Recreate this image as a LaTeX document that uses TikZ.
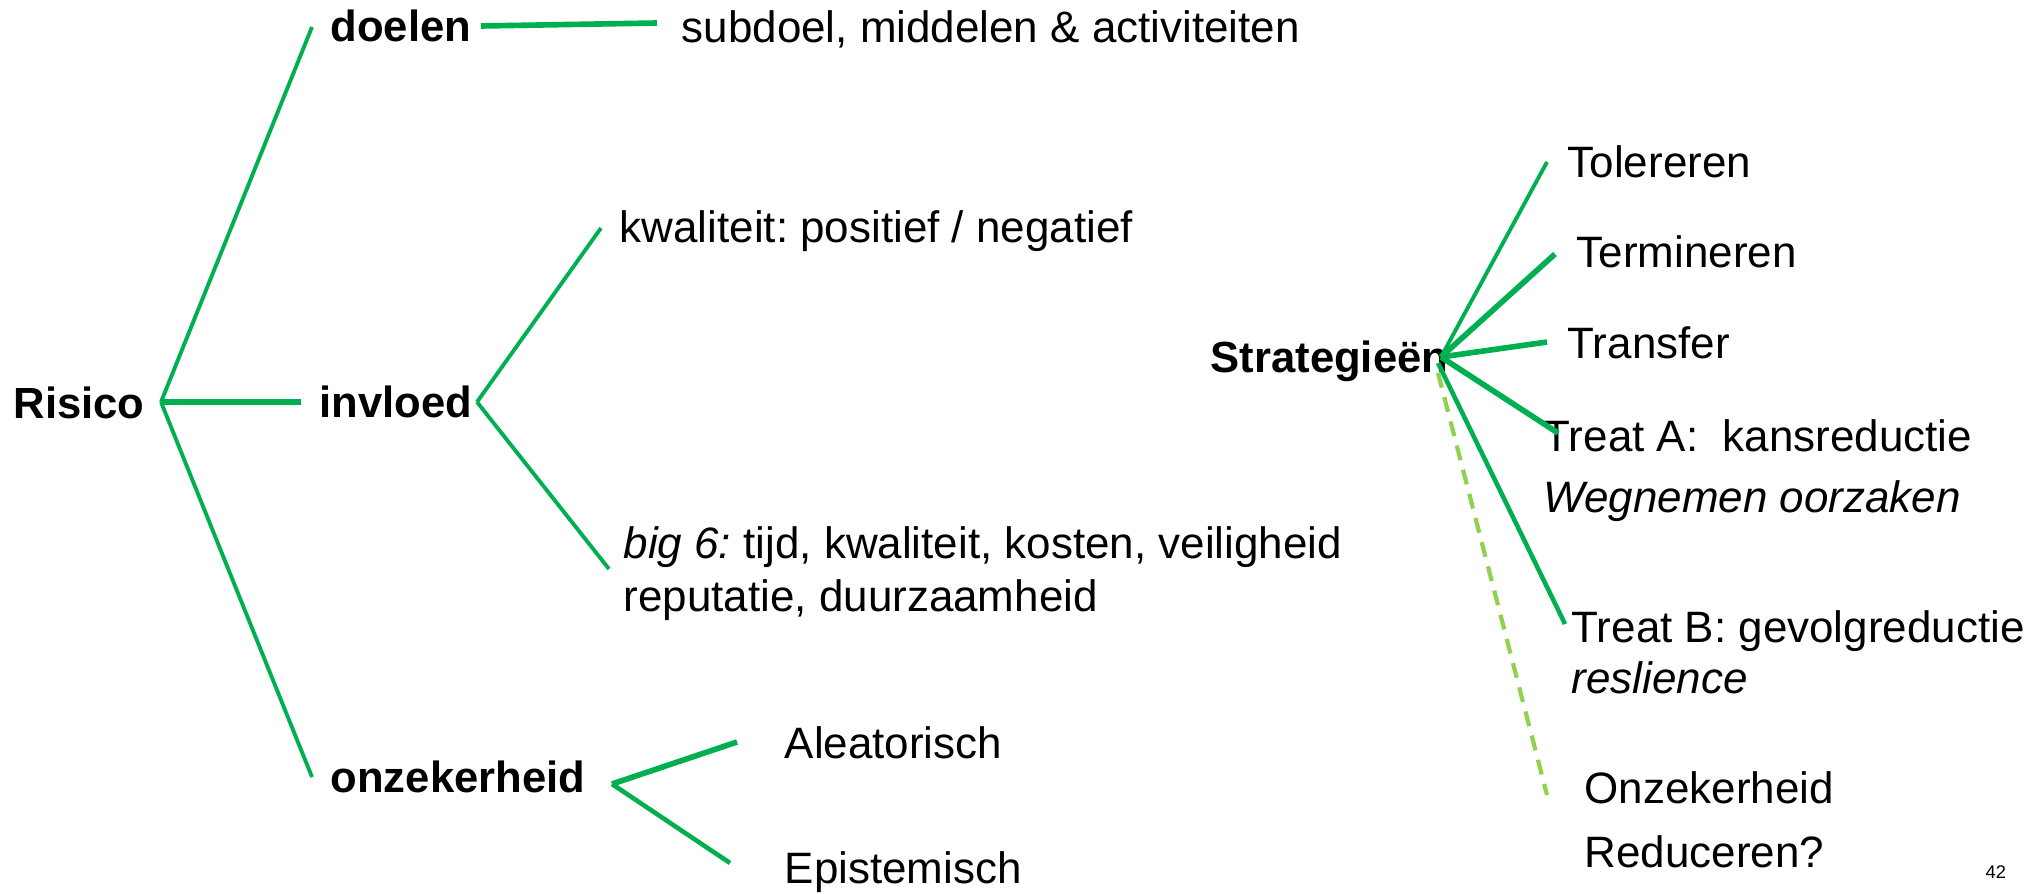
\documentclass[tikz,border=0pt]{standalone}
\usepackage{fontspec}
\setmainfont{Liberation Sans}
\usepackage{xcolor}
\usepackage{tikz}
\usetikzlibrary{positioning,calc}
\definecolor{treegreen}{HTML}{00B050}
\definecolor{lightgreen}{HTML}{92D050}
\frenchspacing

\begin{document}
\begin{tikzpicture}[
    x=0.01cm, y=-0.01cm,
    lbl/.style={anchor=base west, inner sep=0pt, font=\fontsize{12.5pt}{15pt}\selectfont},
    head/.style={lbl, font=\fontsize{12.4pt}{15pt}\selectfont\bfseries},
    note/.style={lbl, font=\fontsize{12.5pt}{15pt}\selectfont\itshape},
    branch/.style={treegreen, line width=1.1pt},
    mainbranch/.style={treegreen, line width=1.6pt},
    maybebranch/.style={lightgreen, line width=1.2pt, dash pattern=on 4.3pt off 2.8pt}
]
    \useasboundingbox (0,0) rectangle (2042,894);

    % Risico
    \node[head] (risico) at (13,418) {Risico};
    \node[head] (doelen) at (330,42) {doelen};
    \node[head] (invloed) at (319,417) {invloed};
    \node[head] (onzeker) at (330,792) {onzekerheid};

    % Leaves left
    \node[lbl] (subdoel) at (681,43) {subdoel, middelen \& activiteiten};
    \node[lbl] (kwal) at (619,243) {kwaliteit: positief / negatief};
    \node[lbl] (big) at (623,558) {\textit{big 6:} tijd, kwaliteit, kosten, veiligheid};
    \node[lbl] (bigb) at (623,611) {reputatie, duurzaamheid};
    \node[lbl] (alea) at (784,758) {Aleatorisch};
    \node[lbl] (epis) at (784,883) {Epistemisch};

    % Strategieen
    \node[head] (strat) at (1210,372) {Strategieën};
    \node[lbl] (toler) at (1567,178) {Tolereren};
    \node[lbl] (termin) at (1576,268) {Termineren};
    \node[lbl] (transf) at (1567,358) {Transfer};
    \node[lbl] (treata) at (1543,451) {Treat A:~ kansreductie};
    \node[note] (wegnem) at (1543,512) {Wegnemen oorzaken};
    \node[lbl] (treatb) at (1571,642) {Treat B: gevolgreductie};
    \node[note] (reslie) at (1571,693) {reslience};
    \node[lbl] (onzred) at (1584,803) {Onzekerheid};
    \node[lbl] (reduc) at (1584,867) {Reduceren?};
    \node[lbl, font=\fontsize{5.2pt}{6pt}\selectfont] (pagenr) at (1985,878) {42};

    % junctions and ends
    \coordinate (risJ) at (161,402);
    \coordinate (doelE) at (312,27);
    \coordinate (invlE) at (301,402);
    \coordinate (onzE) at (312,777);
    \coordinate (doelJ) at (481,26);
    \coordinate (subE) at (657,23);
    \coordinate (invlJ) at (477,402);
    \coordinate (kwalE) at (601,228);
    \coordinate (bigE) at (609,569);
    \coordinate (onzJ) at (612,784);
    \coordinate (aleaE) at (737,742);
    \coordinate (episE) at (730,863);
    \coordinate (stratJ) at (1441,357);
    \coordinate (tolE) at (1547,162);
    \coordinate (terE) at (1555,254);
    \coordinate (traE) at (1547,342);
    \coordinate (taE) at (1558,433);
    \coordinate (tbS) at (1438,363);
    \coordinate (tbE) at (1565,624);
    \coordinate (onS) at (1438,373);
    \coordinate (onE) at (1547,795);

    % Lines
    \draw[branch] (risJ) -- (doelE);
    \draw[mainbranch] (risJ) -- (invlE);
    \draw[branch] (risJ) -- (onzE);
    \draw[mainbranch] (doelJ) -- (subE);
    \draw[branch] (invlJ) -- (kwalE);
    \draw[branch] (invlJ) -- (bigE);
    \draw[mainbranch] (onzJ) -- (aleaE);
    \draw[branch, line width=1.3pt] (onzJ) -- (episE);

    \draw[branch] (stratJ) -- (tolE);
    \draw[mainbranch] (stratJ) -- (terE);
    \draw[mainbranch] (stratJ) -- (traE);
    \draw[mainbranch] (stratJ) -- (taE);
    \draw[branch, line width=1.3pt] (tbS) -- (tbE);
    \draw[maybebranch] (onS) -- (onE);
\end{tikzpicture}
\end{document}
